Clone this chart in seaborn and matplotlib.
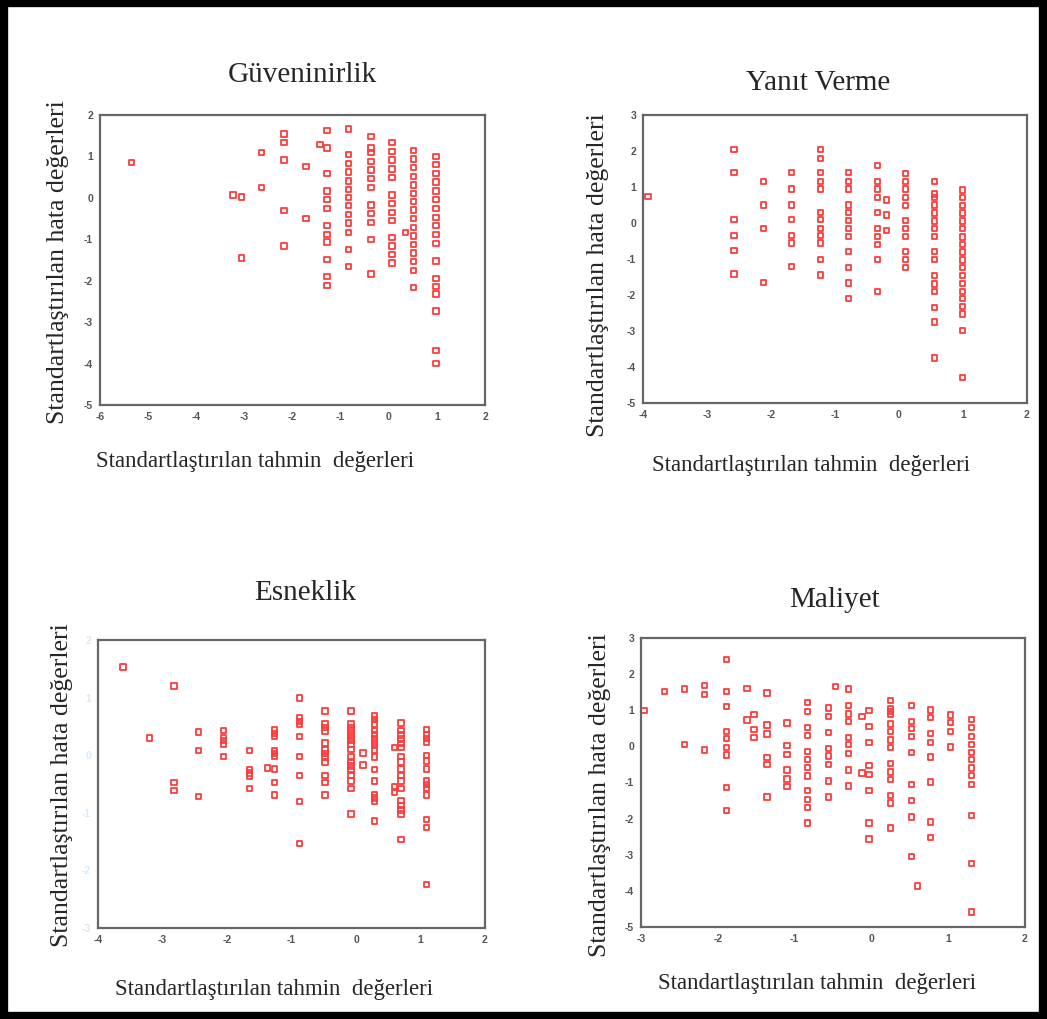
import pandas as pd
import seaborn as sns
import matplotlib.pyplot as plt
from matplotlib.patches import Rectangle

sns.set_style("white")
plt.rcParams['font.family'] = ['Liberation Serif', 'DejaVu Serif']
plt.rcParams['axes.unicode_minus'] = False

W, H = 1047, 1019

# --- Güveninirlik ---
guv_x = ([-5.34, -3.24, -3.06, -3.06, -2.64, -2.64] + [-2.18] * 5 + [-1.72, -1.72, -1.43]
         + [-1.28] * 12 + [-0.83] * 13 + [-0.37] * 12 + [0.07] * 13 + [0.35]
         + [0.52] * 16 + [0.98] * 18)
guv_y = ([0.85, 0.07, 0.02, -1.45, 1.09, 0.25,
          1.54, 1.33, 0.91, -0.31, -1.16,
          0.76, -0.50, 1.29,
          1.63, 1.20, 0.59, 0.17, -0.04, -0.25, -0.67, -0.88, -1.07, -1.49, -1.90, -2.11,
          1.66, 1.04, 0.83, 0.62, 0.41, 0.20, 0.01, -0.19, -0.40, -0.61, -0.83, -1.24, -1.66,
          1.48, 1.20, 1.09, 0.88, 0.67, 0.46, 0.25, -0.17, -0.38, -0.59, -1.00, -1.84,
          1.33, 1.12, 0.91, 0.70, 0.49, 0.07, -0.14, -0.35, -0.55, -0.96, -1.16, -1.37, -1.57,
          -0.84,
          1.15, 0.94, 0.73, 0.52, 0.31, 0.10, -0.09, -0.29, -0.50, -0.71, -0.92, -1.12, -1.33,
          -1.54, -1.75, -2.17,
          1.00, 0.80, 0.59, 0.38, 0.17, -0.04, -0.26, -0.47, -0.67, -0.88, -1.10, -1.52, -1.94,
          -2.14, -2.32, -2.73, -3.69, -4.00])

# --- Yanıt Verme ---
yan_x = ([-3.92] + [-2.58] * 6 + [-2.12] * 4 + [-1.68] * 7 + [-1.23] * 12 + [-0.79] * 12
         + [-0.34] * 10 + [-0.20] * 3 + [0.10] * 11 + [0.55] * 16 + [0.99] * 19)
yan_y = ([0.73,
          2.04, 1.40, 0.09, -0.35, -0.77, -1.42,
          1.15, 0.50, -0.15, -1.66,
          1.40, 0.94, 0.50, 0.09, -0.34, -0.56, -1.21,
          2.04, 1.80, 1.40, 1.15, 0.94, 0.30, 0.09, -0.15, -0.35, -0.56, -1.01, -1.44,
          1.40, 1.16, 0.94, 0.50, 0.30, 0.07, -0.15, -0.37, -0.80, -1.24, -1.67, -2.10,
          1.59, 1.16, 0.94, 0.70, 0.30, -0.15, -0.37, -0.60, -1.01, -1.90,
          0.64, 0.22, -0.21,
          1.38, 1.16, 0.94, 0.70, 0.49, 0.07, -0.15, -0.37, -0.80, -1.02, -1.24,
          1.16, 0.81, 0.71, 0.50, 0.28, 0.06, -0.16, -0.37, -0.80, -1.02, -1.45, -1.69, -1.90,
          -2.34, -2.75, -3.75,
          0.92, 0.71, 0.49, 0.28, 0.06, -0.16, -0.39, -0.60, -0.81, -1.03, -1.23, -1.45, -1.68,
          -1.90, -2.10, -2.32, -2.53, -2.99, -4.30])

# --- Esneklik ---
esn_x = ([-3.61, -2.82, -3.20, -2.82, -2.82, -2.44, -2.44, -2.44] + [-2.05] * 5 + [-1.65] * 5
         + [-1.37] + [-1.26] * 9 + [-0.88] * 9 + [-0.48] * 12 + [-0.08] * 17 + [0.11, 0.11]
         + [0.29] * 16 + [0.60] * 3 + [0.70] * 17 + [1.09] * 14)
esn_y = ([1.53, 1.20, 0.30, -0.47, -0.61, 0.40, 0.08, -0.72,
          0.43, 0.31, 0.25, 0.19, -0.02,
          0.08, -0.25, -0.31, -0.36, -0.58,
          -0.22,
          0.44, 0.38, 0.32, 0.08, 0.03, -0.02, -0.24, -0.47, -0.69,
          0.99, 0.65, 0.59, 0.53, 0.32, -0.02, -0.35, -0.80, -1.53,
          0.77, 0.54, 0.48, 0.42, 0.21, 0.09, 0.03, -0.02, -0.13, -0.35, -0.47, -0.69,
          0.77, 0.54, 0.48, 0.42, 0.36, 0.31, 0.25, 0.19, 0.10, -0.02, -0.13, -0.19, -0.25,
          -0.35, -0.45, -0.58, -1.02,
          0.04, -0.17,
          0.68, 0.62, 0.54, 0.43, 0.36, 0.29, 0.23, 0.17, 0.09, -0.03, -0.25, -0.45, -0.68,
          -0.74, -0.80, -1.14,
          0.13, -0.54, -0.65,
          0.56, 0.43, 0.35, 0.28, 0.20, 0.13, -0.02, -0.12, -0.24, -0.35, -0.45, -0.58, -0.79,
          -0.87, -0.95, -1.02, -1.46,
          0.45, 0.35, 0.29, 0.22, 0.00, -0.10, -0.24, -0.45, -0.51, -0.58, -0.69, -1.12, -1.25,
          -2.24])

# --- Maliyet ---
mal_x = ([-2.96, -2.69, -2.43, -2.43, -2.17, -2.17, -2.17] + [-1.89] * 9
         + [-1.62, -1.62, -1.53, -1.53, -1.53] + [-1.36] * 6 + [-1.10] * 6 + [-0.83] * 12
         + [-0.56] * 8 + [-0.47] + [-0.30] * 9 + [-0.12, -0.12] + [-0.03] * 8 + [0.25] * 14
         + [0.52] * 9 + [0.60] + [0.77] * 8 + [1.03] * 4 + [1.30] * 12)
mal_y = ([1.00, 1.52, 1.59, 0.05, 1.69, 1.44, -0.10,
          2.41, 1.52, 1.11, 0.42, 0.22, -0.03, -0.24, -1.13, -1.77,
          1.61, 0.73, 0.89, 0.46, 0.25,
          1.48, 0.59, 0.34, -0.30, -0.51, -1.40,
          0.65, 0.02, -0.23, -0.65, -0.90, -1.11,
          1.21, 0.97, 0.53, 0.30, -0.14, -0.37, -0.58, -0.82, -1.23, -1.47, -1.69, -2.12,
          1.06, 0.83, 0.38, -0.06, -0.27, -0.51, -0.96, -1.40,
          1.65,
          1.59, 1.13, 0.90, 0.69, 0.25, 0.05, -0.20, -0.65, -1.10,
          0.83, -0.74,
          1.00, 0.55, 0.10, -0.53, -0.78, -1.23, -2.12, -2.56,
          1.27, 1.04, 0.96, 0.88, 0.62, 0.41, 0.18, -0.03, -0.48, -0.71, -0.92, -1.36, -1.57,
          -2.26,
          1.13, 0.69, 0.49, 0.28, -0.17, -1.06, -1.50, -1.95, -3.04,
          -3.87,
          1.01, 0.80, 0.35, 0.11, -0.29, -0.99, -2.09, -2.53,
          0.87, 0.66, 0.41, -0.02,
          0.74, 0.53, 0.28, 0.06, -0.17, -0.37, -0.60, -0.81, -1.05, -1.92, -3.25, -4.59])

x_label = "Standartlaştırılan tahmin  değerleri"
y_label = "Standartlaştırılan hata değerleri"

panels = [
    dict(title="Güveninirlik", x=guv_x, y=guv_y, xlim=(-6, 2), ylim=(-5, 2),
         box=(100, 485, 115, 405), tpos=(302, 75), xl=(255, 462), yl=(58, 262)),
    dict(title="Yanıt Verme", x=yan_x, y=yan_y, xlim=(-4, 2), ylim=(-5, 3),
         box=(643, 1027, 115, 403), tpos=(818, 83), xl=(811, 465), yl=(598, 275)),
    dict(title="Esneklik", x=esn_x, y=esn_y, xlim=(-4, 2), ylim=(-3, 2),
         box=(98, 485, 640, 928), tpos=(305, 593), xl=(274, 990), yl=(62, 785)),
    dict(title="Maliyet", x=mal_x, y=mal_y, xlim=(-3, 2), ylim=(-5, 3),
         box=(641, 1025, 638, 927), tpos=(835, 600), xl=(817, 983), yl=(600, 795)),
]

fig = plt.figure(figsize=(W / 100, H / 100), dpi=100)
fig.patch.set_facecolor("white")

for i, p in enumerate(panels):
    l, r, t, b = p["box"]
    ax = fig.add_axes([l / W, 1 - b / H, (r - l) / W, (b - t) / H])
    df = pd.DataFrame({"pred": p["x"], "resid": p["y"]})
    sns.scatterplot(data=df, x="pred", y="resid", ax=ax, marker="s", s=15,
                    facecolor="none", edgecolor="#ff3b3b", linewidth=1.3)
    ax.set_xlim(*p["xlim"])
    ax.set_ylim(*p["ylim"])
    ax.set_xticks(range(p["xlim"][0], p["xlim"][1] + 1))
    ax.set_yticks(range(p["ylim"][0], p["ylim"][1] + 1))
    ax.set_xlabel("")
    ax.set_ylabel("")
    for side in ["top", "right", "left", "bottom"]:
        ax.spines[side].set_color("#666666")
        ax.spines[side].set_linewidth(1.6)
    ax.tick_params(direction="out", length=3, width=2, color="black", pad=2,
                   labelsize=7.5, labelcolor="#555555")
    for lab in ax.get_xticklabels() + ax.get_yticklabels():
        lab.set_family(["Liberation Sans", "DejaVu Sans"])
        lab.set_fontweight("bold")
    if i == 2:
        # y tick labels are washed out in the source
        ax.tick_params(axis="y", labelcolor="#d6eafc")

    fig.text(p["tpos"][0] / W, 1 - p["tpos"][1] / H, p["title"], ha="center", va="center",
             fontsize=21)
    fig.text(p["xl"][0] / W, 1 - p["xl"][1] / H, x_label, ha="center", va="center",
             fontsize=16.5)
    fig.text(p["yl"][0] / W, 1 - p["yl"][1] / H, y_label, ha="center", va="center",
             rotation=90, fontsize=18.5)

# black frame around the whole picture
fig.patches.append(Rectangle((0.004, 0.003), 0.992, 0.994, transform=fig.transFigure,
                             fill=False, edgecolor="black", linewidth=6))

fig.savefig("out.png", dpi=100)
